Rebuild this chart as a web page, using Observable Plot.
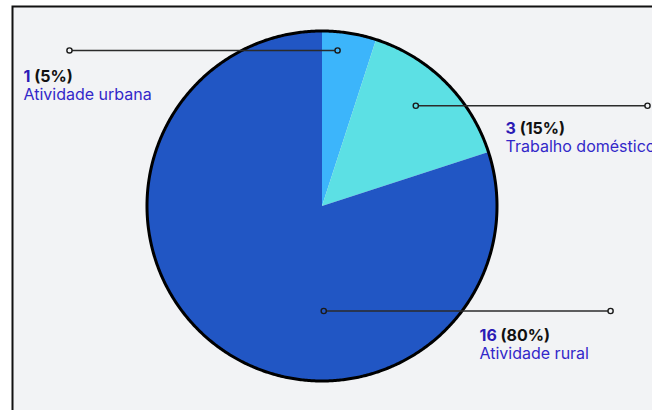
<!DOCTYPE html>
<html><head><meta charset="utf-8">
<script src="https://cdn.jsdelivr.net/npm/d3@7"></script>
<script src="https://cdn.jsdelivr.net/npm/@observablehq/plot@0.6"></script>
<style>body{margin:0;background:#fff;}</style>
</head><body><div id="chart"></div>
<script>
// ---- data ----
const categories = ["Atividade urbana", "Trabalho doméstico", "Atividade rural"];
const values = [1, 3, 16];
const colors = ["#3cb5fb", "#5ce0e4", "#2156c4"];

// ---- annotation layout (pie-radius units, 0,0 = pie centre) ----
const leaderInnerX = [0.089, 0.536, 0.010];
const leaderInnerY = [0.889, 0.573, -0.600];
const leaderOuterX = [-1.443, 1.860, 1.649];
const labelX = [-1.706, 1.049, 0.900];
const labelY = [0.706, 0.414, -0.774];

const W = 652, H = 410, CX = 321.5, CY = 205.5, R = 175;
const BG = "#f2f3f5";
const NUM_COLOR = "#2b1bb5", LABEL_COLOR = "#3328c9";

const total = d3.sum(values);
const arcs = d3.pie().sort(null).value(d => d)(values);
const slicePts = [];
arcs.forEach((a, i) => {
  slicePts.push({k: i, x: 0, y: 0, fill: colors[i]});
  const n = Math.max(2, Math.ceil((a.endAngle - a.startAngle) / (Math.PI / 360)));
  for (let j = 0; j <= n; j++) {
    const t = a.startAngle + (a.endAngle - a.startAngle) * j / n;
    slicePts.push({k: i, x: Math.sin(t), y: Math.cos(t), fill: colors[i]});
  }
  slicePts.push({k: i, x: 0, y: 0, fill: colors[i]});
});
const ring = d3.range(0, 721).map(j => ({x: Math.sin(j * Math.PI / 360), y: Math.cos(j * Math.PI / 360)}));

const rows = categories.map((c, i) => ({
  cat: c, v: values[i], pct: Math.round(values[i] / total * 100),
  ix: leaderInnerX[i], iy: leaderInnerY[i], ox: leaderOuterX[i],
  lx: labelX[i], ly: labelY[i], col: colors[i]
}));

const svgNS = "http://www.w3.org/2000/svg";
const chart = Plot.plot({
  width: W, height: H,
  margin: 0,
  style: {background: "transparent", fontFamily: "Inter, sans-serif"},
  x: {domain: [-1, 1], range: [CX - R, CX + R], axis: null},
  y: {domain: [-1, 1], range: [CY + R, CY - R], axis: null},
  color: {type: "identity"},
  marks: [
    Plot.frame({fill: BG, stroke: "#111", strokeWidth: 2, insetLeft: 12, insetTop: 6, insetRight: -10, insetBottom: -10}),
    Plot.line(slicePts, {x: "x", y: "y", z: "k", fill: "fill", stroke: null, curve: "linear"}),
    Plot.line(ring, {x: "x", y: "y", stroke: "#000", strokeWidth: 3, curve: "linear"}),
    Plot.link(rows, {x1: "ix", y1: "iy", x2: "ox", y2: "iy", stroke: "#2b2b2b", strokeWidth: 1.6}),
    Plot.dot(rows, {x: "ix", y: "iy", r: 2.6, fill: "col", stroke: "#1a1a1a", strokeWidth: 1.4}),
    Plot.dot(rows, {x: "ox", y: "iy", r: 2.6, fill: BG, stroke: "#1a1a1a", strokeWidth: 1.4}),
    Plot.text(rows, {
      x: "lx", y: "ly", text: d => `${d.v} (${d.pct}%)`,
      textAnchor: "start", lineAnchor: "bottom", fontSize: 16, fontWeight: 700, fill: "#111",
      render(index, scales, vals, dims, ctx, next) {
        const g = next(index, scales, vals, dims, ctx);
        g.querySelectorAll("text").forEach((t, j) => {
          const d = rows[index[j]];
          t.textContent = "";
          const a = document.createElementNS(svgNS, "tspan");
          a.setAttribute("fill", NUM_COLOR); a.textContent = String(d.v);
          const b = document.createElementNS(svgNS, "tspan");
          b.setAttribute("fill", "#111"); b.textContent = ` (${d.pct}%)`;
          t.append(a, b);
        });
        return g;
      }
    }),
    Plot.text(rows, {
      x: "lx", y: "ly", dy: 18, text: "cat",
      textAnchor: "start", lineAnchor: "bottom", fontSize: 16, fontWeight: 400, fill: LABEL_COLOR
    })
  ]
});
document.getElementById("chart").append(chart);
</script>
</body></html>
